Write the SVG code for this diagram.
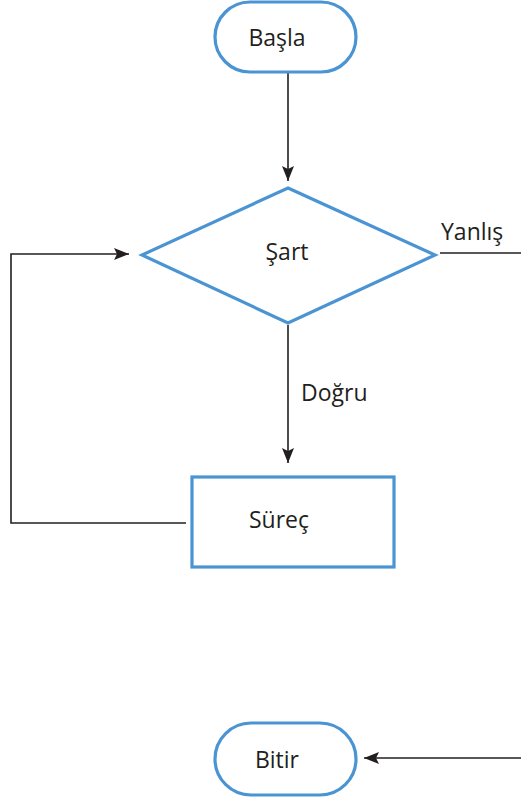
<svg xmlns="http://www.w3.org/2000/svg" width="521" height="802" viewBox="0 0 521 802">
<style>
.shape{fill:#fff;stroke:#4a94d3;stroke-width:3.2}
.lbl{font-family:"Open Sans","Liberation Sans",sans-serif;font-size:23px;fill:#231f20}
.line{fill:none;stroke:#231f20;stroke-width:1.6}
</style>
<defs>
<marker id="ah" viewBox="0 0 15 12" refX="15" refY="6" markerWidth="15" markerHeight="12" markerUnits="userSpaceOnUse" orient="auto">
<path d="M0,0 L15,6 L0,12 L3,6 Z" fill="#231f20"/>
</marker>
</defs>
<g id="connectors">
<line class="line" x1="288" y1="73" x2="288" y2="181" marker-end="url(#ah)"/>
<line class="line" x1="288" y1="325" x2="288" y2="463" marker-end="url(#ah)"/>
<polyline class="line" points="186,523 11,523 11,254 129,254" marker-end="url(#ah)"/>
<line class="line" x1="440" y1="253" x2="521" y2="253"/>
<line class="line" x1="521" y1="758" x2="364" y2="758" marker-end="url(#ah)"/>
<text class="lbl" x="441" y="240">Yanlış</text>
<text class="lbl" x="301" y="401">Doğru</text>
</g>
<g id="basla">
<rect class="shape" x="215" y="2" width="141" height="70" rx="35"/>
<text class="lbl" x="277" y="46" text-anchor="middle">Başla</text>
</g>
<g id="sart">
<polygon class="shape" points="288,188 435,255 288,323 142,255"/>
<text class="lbl" x="287" y="260" text-anchor="middle">Şart</text>
</g>
<g id="surec">
<rect class="shape" x="192" y="477" width="202" height="90"/>
<text class="lbl" x="279" y="528" text-anchor="middle">Süreç</text>
</g>
<g id="bitir">
<rect class="shape" x="215" y="723" width="141" height="72" rx="36"/>
<text class="lbl" x="277" y="768" text-anchor="middle">Bitir</text>
</g>
</svg>
